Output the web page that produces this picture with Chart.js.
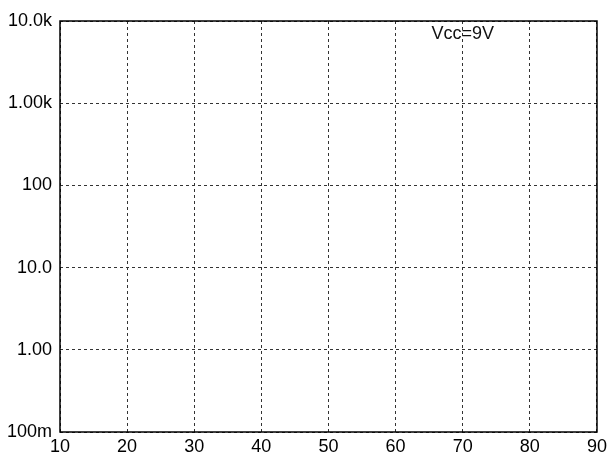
<!DOCTYPE html>
<html>
<head>
<meta charset="utf-8">
<script src="https://cdn.jsdelivr.net/npm/chart.js@4"></script>
<style>
  html, body { margin:0; padding:0; background:#fff; }
  #wrap { width:611px; height:454px; }
</style>
</head>
<body>
<div id="wrap"><canvas id="chart"></canvas></div>
<script>
// axis ticks (most of the plot is covered, no curve is readable)
const xTicks      = [10, 20, 30, 40, 50, 60, 70, 80, 90];
const yTicks      = [0.1, 1, 10, 100, 1000, 10000];
const yTickLabels = ['100m', '1.00', '10.0', '100', '1.00k', '10.0k'];

// text notes placed in data units
const noteText = ['Vcc=9V'];
const noteX    = [70];
const noteY    = [7000];

const font = { family:'Arial, "Liberation Sans", sans-serif', size:18 };

// box round the plot + notes
const framePlugin = {
  id:'frame',
  afterDraw(chart) {
    const { ctx, chartArea:a, scales } = chart;
    ctx.save();
    ctx.strokeStyle = '#000';
    ctx.lineWidth = 1.5;
    ctx.strokeRect(a.left, a.top, a.right - a.left, a.bottom - a.top);
    ctx.fillStyle = '#111';
    ctx.font = `18px ${font.family}`;
    ctx.textAlign = 'center';
    ctx.textBaseline = 'middle';
    noteText.forEach((t, i) => {
      ctx.fillText(t, scales.x.getPixelForValue(noteX[i]), scales.y.getPixelForValue(noteY[i]));
    });
    ctx.restore();
  }
};

new Chart(document.getElementById('chart'), {
  type:'line',
  data:{ datasets:[] },
  options:{
    responsive:true, maintainAspectRatio:false, animation:false,
    layout:{ padding:{ top:21, right:7, left:4, bottom:0 } },
    plugins:{ legend:{ display:false }, tooltip:{ enabled:false } },
    scales:{
      x:{
        type:'linear', min:xTicks[0], max:xTicks[xTicks.length-1],
        afterBuildTicks: s => { s.ticks = xTicks.map(v => ({ value:v })); },
        afterFit: s => { s.height = 22; },
        ticks:{ color:'#000', font, padding:4, maxRotation:0, autoSkip:false },
        grid:{ color:'#333', lineWidth:1, drawTicks:false },
        border:{ display:false, dash:[3,3] }
      },
      y:{
        type:'logarithmic', min:yTicks[0], max:yTicks[yTicks.length-1],
        afterBuildTicks: s => { s.ticks = yTicks.map(v => ({ value:v })); },
        afterFit: s => { s.width = 56; },
        ticks:{ color:'#000', font, padding:8, autoSkip:false,
          callback:(v) => { const i = yTicks.indexOf(v); return i < 0 ? '' : yTickLabels[i]; } },
        grid:{ color:'#333', lineWidth:1, drawTicks:false },
        border:{ display:false, dash:[3,3] }
      }
    }
  },
  plugins:[framePlugin]
});
</script>
</body>
</html>
